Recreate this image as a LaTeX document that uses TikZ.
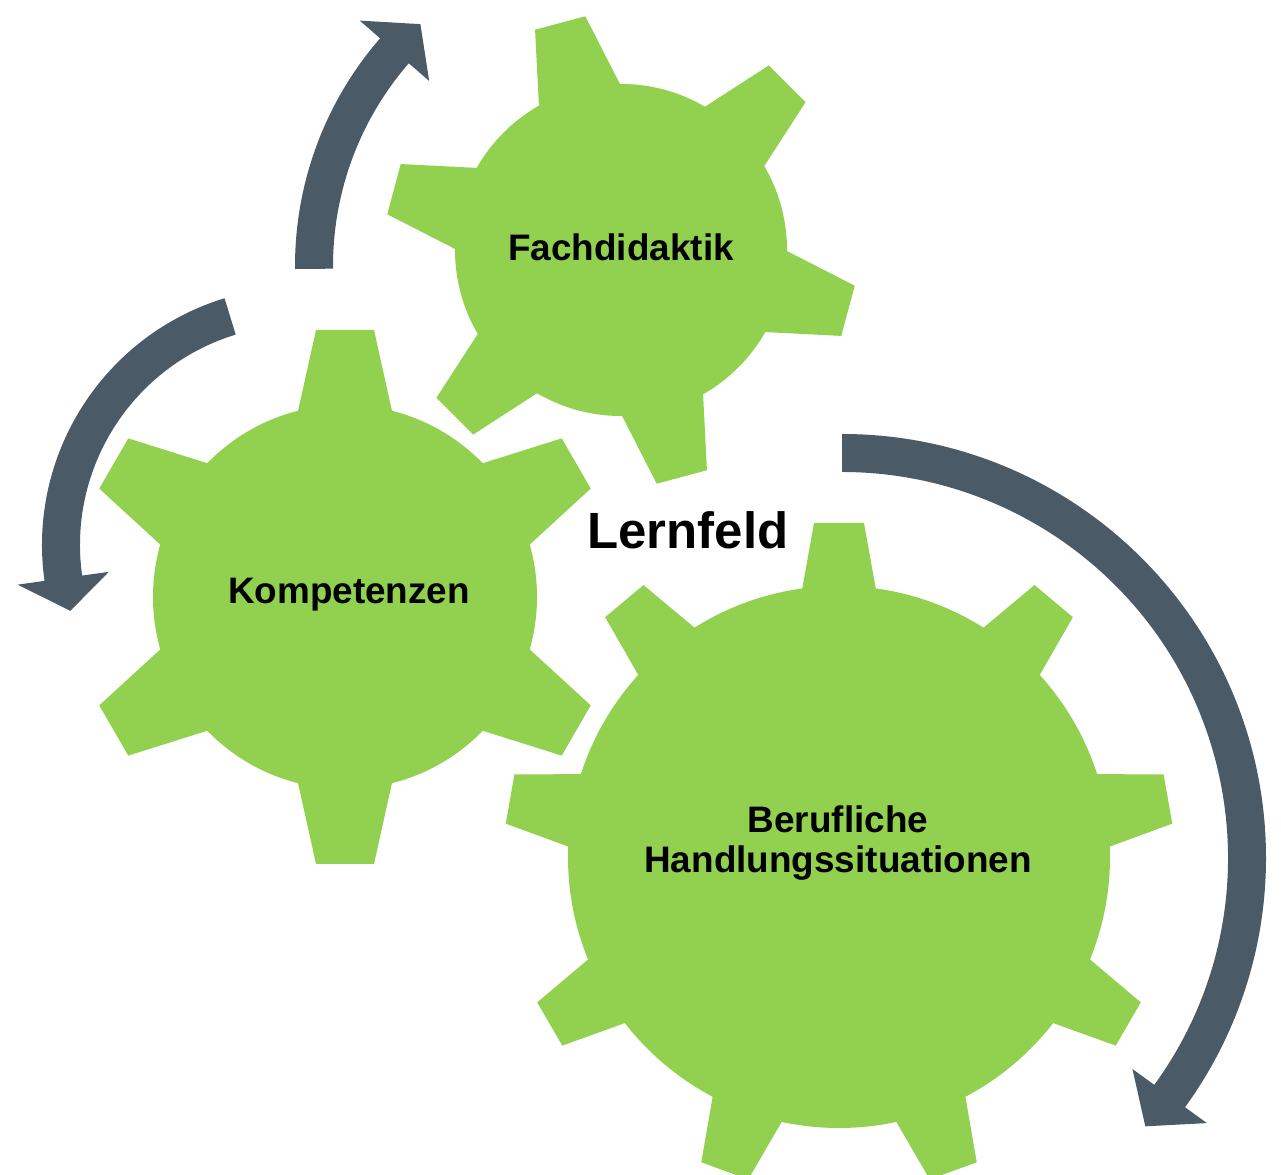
\documentclass[tikz,border=0pt]{standalone}
\usepackage{fontspec}
\setmainfont{Liberation Sans}
\usepackage{xcolor}
\usepackage{tikz}
\definecolor{gearGreen}{HTML}{92D050}
\definecolor{arrowSlate}{HTML}{4A5A66}
\tikzset{
  gearfill/.style={fill=gearGreen},
  arrowfill/.style={fill=arrowSlate},
  gearlabel/.style={align=center, font=\bfseries\fontsize{21}{23}\selectfont, text=black},
  centertitle/.style={font=\bfseries\fontsize{29}{32}\selectfont, text=black},
}
% center, body radius, tip radius, tip half width, base half width, tooth angles
\newcommand{\gearwheel}[6]{%
  \begin{scope}[shift={#1}]
    \fill[gearfill] (0,0) circle[radius=#2];
    \foreach \a in {#6}
      \fill[gearfill, rotate=\a] ({#2-15},{-(#5)-3}) -- (#3,-#4) -- (#3,#4) -- ({#2-15},{#5+3}) -- cycle;
  \end{scope}
}
% center, mid radius, start angle, end angle, tip angle
\newcommand{\cyclearrow}[5]{%
  \fill[arrowfill, shift={#1}] ({#3}:{#2+19}) arc[start angle=#3, end angle=#4, radius=#2+19]
    -- ({#4}:{#2+46}) -- ({#5}:{#2}) -- ({#4}:{#2-46}) -- ({#4}:{#2-19})
    arc[start angle=#4, end angle=#3, radius=#2-19] -- cycle;
}
\begin{document}
\begin{tikzpicture}[x=0.02cm, y=0.02cm]
    \useasboundingbox (0,0) rectangle (1281,1175);
    \gearwheel{(621,925)}{166}{235}{26}{41}{-15,45,...,285}
    \gearwheel{(345,578)}{192}{267}{29}{46}{30,90,...,330}
    \gearwheel{(839,318)}{271}{334}{25}{36}{90,130,...,410}
    \cyclearrow{(642,909)}{328}{180.5}{139}{132.5}
    \cyclearrow{(300,630)}{239}{107}{188}{196}
    \cyclearrow{(842,317)}{405}{90}{-36}{-41.5}
    \node[gearlabel] (fach) at (621,928) {Fachdidaktik};
    \node[gearlabel] (komp) at (349,580) {Kompetenzen};
    \node[gearlabel] (beruf) at (838,332) {Berufliche\\Handlungssituationen};
    \node[centertitle] (lernfeld) at (688,645) {Lernfeld};
  \end{tikzpicture}
\end{document}
